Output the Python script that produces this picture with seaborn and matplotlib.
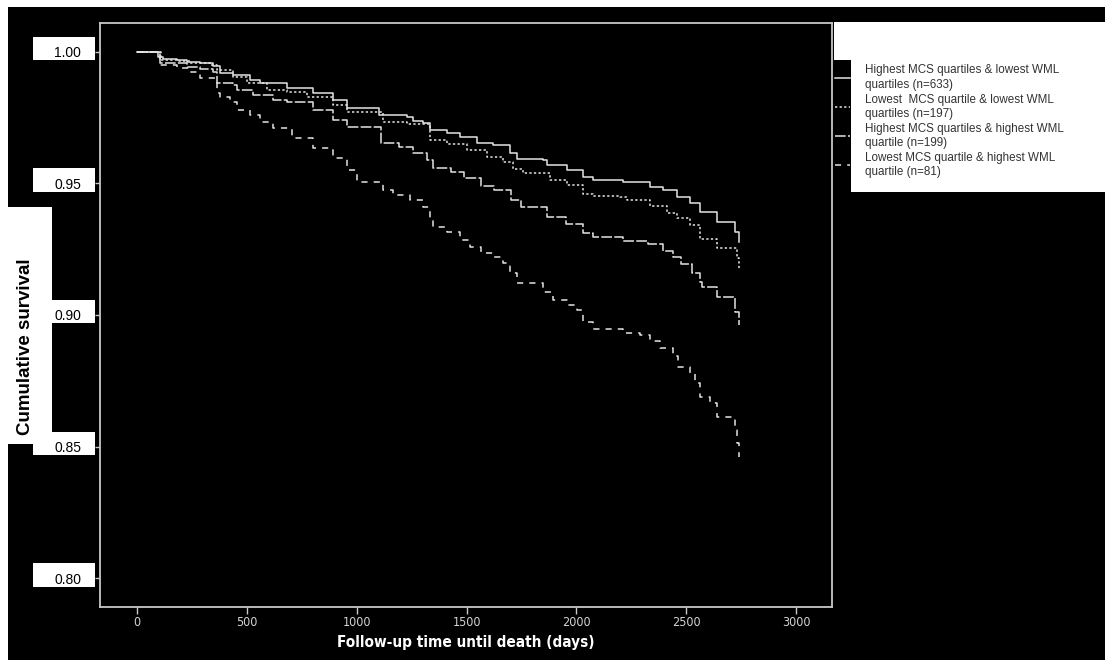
import numpy as np
import pandas as pd
import seaborn as sns
import matplotlib.pyplot as plt
from matplotlib.patches import Rectangle

# Kaplan-Meier step curves (day, cumulative survival)
groups = ["Highest MCS quartiles & lowest WML\nquartiles (n=633)",
          "Lowest  MCS quartile & lowest WML\nquartiles (n=197)",
          "Highest MCS quartiles & highest WML\nquartile (n=199)",
          "Lowest MCS quartile & highest WML\nquartile (n=81)"]

days1 = [0, 95, 118, 182, 228, 287, 346, 378, 437, 514, 560, 683, 801, 892, 956, 1100,
         1229, 1256, 1302, 1334, 1411, 1470, 1548, 1620, 1698, 1730, 1848, 1866, 1957,
         2030, 2076, 2212, 2335, 2394, 2458, 2517, 2562, 2640, 2722, 2738]
surv1 = [1.0, 0.9981, 0.9973, 0.9970, 0.9962, 0.9958, 0.9947, 0.9920, 0.9913, 0.9894,
         0.9882, 0.9863, 0.9844, 0.9817, 0.9787, 0.9760, 0.9753, 0.9738, 0.9730, 0.9703,
         0.9692, 0.9677, 0.9654, 0.9646, 0.9616, 0.9593, 0.9589, 0.9570, 0.9551, 0.9525,
         0.9513, 0.9506, 0.9487, 0.9475, 0.9449, 0.9426, 0.9392, 0.9354, 0.9316, 0.9278]

days2 = [0, 110, 182, 241, 332, 364, 437, 501, 592, 683, 774, 892, 956, 1120, 1229, 1334,
         1411, 1502, 1593, 1666, 1712, 1757, 1880, 1957, 2030, 2076, 2199, 2230, 2335,
         2412, 2458, 2517, 2562, 2640, 2731, 2738]
surv2 = [1.0, 0.9970, 0.9966, 0.9958, 0.9951, 0.9932, 0.9905, 0.9882, 0.9856, 0.9848,
         0.9829, 0.9798, 0.9772, 0.9734, 0.9726, 0.9665, 0.9650, 0.9627, 0.9601, 0.9582,
         0.9555, 0.9540, 0.9513, 0.9494, 0.9460, 0.9452, 0.9449, 0.9437, 0.9414, 0.9388,
         0.9369, 0.9342, 0.9289, 0.9255, 0.9217, 0.9171]

days3 = [0, 105, 228, 287, 346, 364, 437, 455, 528, 619, 683, 801, 892, 956, 1110, 1192,
         1256, 1320, 1347, 1429, 1488, 1566, 1625, 1703, 1748, 1866, 1952, 2030, 2076,
         2212, 2326, 2394, 2440, 2476, 2526, 2562, 2571, 2640, 2722, 2738]
surv3 = [1.0, 0.9958, 0.9943, 0.9935, 0.9924, 0.9882, 0.9875, 0.9856, 0.9837, 0.9817,
         0.9810, 0.9779, 0.9741, 0.9715, 0.9654, 0.9639, 0.9616, 0.9589, 0.9559, 0.9544,
         0.9521, 0.9490, 0.9475, 0.9437, 0.9411, 0.9373, 0.9346, 0.9312, 0.9297, 0.9281,
         0.9270, 0.9243, 0.9221, 0.9194, 0.9160, 0.9125, 0.9106, 0.9068, 0.9011, 0.8962]

days4 = [0, 105, 182, 241, 287, 364, 378, 423, 455, 514, 560, 619, 705, 801, 892, 956,
         1000, 1120, 1165, 1242, 1302, 1334, 1347, 1411, 1470, 1516, 1566, 1625, 1666,
         1698, 1730, 1848, 1893, 1957, 2003, 2030, 2076, 2212, 2289, 2335, 2380, 2440,
         2462, 2517, 2540, 2562, 2608, 2640, 2722, 2731, 2738]
surv4 = [1.0, 0.9951, 0.9939, 0.9924, 0.9901, 0.9844, 0.9829, 0.9810, 0.9779, 0.9760,
         0.9734, 0.9711, 0.9673, 0.9635, 0.9597, 0.9551, 0.9506, 0.9475, 0.9456, 0.9437,
         0.9411, 0.9369, 0.9335, 0.9316, 0.9285, 0.9259, 0.9236, 0.9221, 0.9198, 0.9160,
         0.9122, 0.9087, 0.9057, 0.9038, 0.9019, 0.8973, 0.8947, 0.8932, 0.8924, 0.8901,
         0.8875, 0.8844, 0.8802, 0.8779, 0.8741, 0.8688, 0.8665, 0.8612, 0.8563, 0.8513,
         0.8460]

x_ticks = [0, 500, 1000, 1500, 2000, 2500, 3000]
y_ticks = [0.80, 0.85, 0.90, 0.95, 1.00]

df = pd.concat([pd.DataFrame({"day": d, "surv": s, "group": g})
                for d, s, g in zip([days1, days2, days3, days4],
                                   [surv1, surv2, surv3, surv4], groups)])

W, H = 1105, 660
fig = plt.figure(figsize=(W / 100, H / 100), dpi=100, facecolor="black")
ax = fig.add_axes([100 / W, 1 - 607 / H, 732 / W, (607 - 22.7) / H])
ax.set_facecolor("black")

lc = "#e4e4e4"
sns.lineplot(data=df, x="day", y="surv", hue="group", style="group",
             hue_order=groups, style_order=groups,
             palette=[lc] * 4, dashes=["", (1.5, 1.5), (7, 1.5), (4, 4)],
             estimator=None, drawstyle="steps-post", linewidth=1.1,
             legend=False, ax=ax)

ax.set_xlim(-168, 3163)
ax.set_ylim(0.789, 1.0111)

ax.set_xticks(x_ticks)
ax.set_xticklabels([str(t) for t in x_ticks], family="DejaVu Sans", stretch="condensed")
ax.set_yticks(y_ticks)
ax.set_yticklabels([f"{t:.2f}" for t in y_ticks], family="Liberation Sans")
ax.tick_params(axis="x", colors="#c8c8c8", labelcolor="#d4d4d4", length=5, width=1,
               pad=1.5, labelsize=9)
ax.tick_params(axis="y", colors="#c8c8c8", labelcolor="black", length=3.6, width=1,
               pad=10, labelsize=10)
for sp in ax.spines.values():
    sp.set_color("#c8c8c8")
    sp.set_linewidth(1.3)

ax.set_xlabel("Follow-up time until death (days)", color="white", fontweight="bold",
              fontsize=11, family="DejaVu Sans", stretch="condensed")
ax.xaxis.set_label_coords(0.5, (607 - 643) / 584.3)
ax.xaxis.label.set_verticalalignment("center")
ax.set_ylabel("Cumulative survival", color="black", fontweight="bold", fontsize=13.5,
              family="Liberation Sans")
ax.yaxis.set_label_coords((26 - 100) / 732, (607 - 347) / 584.3)
ax.yaxis.label.set_verticalalignment("center")


def fig_box(x0, y0, x1, y1):
    fig.add_artist(Rectangle((x0 / W, 1 - y1 / H), (x1 - x0) / W, (y1 - y0) / H,
                             transform=fig.transFigure, facecolor="white",
                             edgecolor="none", zorder=-1))


# white page bits around the black chart
fig_box(0, 0, W, 7)
fig_box(0, 0, 8, H)
fig_box(834, 22, W, 60)
fig_box(851, 60, W, 192)
fig_box(8, 207, 52, 444)
for t in y_ticks:
    yp = H - ax.transData.transform((0, t))[1]
    fig_box(33, yp - 15, 95, yp + 8.5)

leg = ax.legend(ax.lines[:4], groups, loc="upper left",
                bbox_to_anchor=(835 / W, 1 - 64.5 / H), bbox_transform=fig.transFigure,
                frameon=False, borderpad=0, borderaxespad=0, handlelength=1.3,
                handletextpad=1.3, labelspacing=0.2,
                prop={"family": "Liberation Sans", "size": 8.4})
for txt in leg.get_texts():
    txt.set_color("#333333")
    txt.set_linespacing(1.3)

plt.savefig("out.png", dpi=100, facecolor="black")
